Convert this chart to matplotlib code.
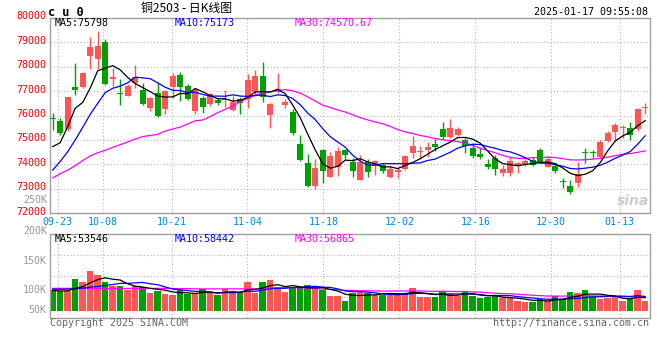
import matplotlib
matplotlib.use("Agg")
import matplotlib.pyplot as plt
from matplotlib.transforms import ScaledTranslation
import numpy as np

# ---------------- data ----------------
opens = [75900, 75780, 75450, 77170, 77180, 78450, 78330, 79000, 77510, 76910,
         76820, 77350, 77050, 76330, 76910, 76270, 77180, 77660, 77210, 76200,
         76710, 76480, 76640, 76640, 76230, 76670, 76670, 76980, 77620, 76030,
         76970, 76430, 76160, 74840, 74050, 73130, 74590, 73500, 73910, 74590,
         74120, 73360, 74120, 73950, 73980, 73500, 73710, 73800, 74480, 74500,
         74590, 74840, 75450, 75140, 75210, 75000, 74690, 74430, 74020, 74280,
         73660, 73660, 73950, 74020, 74180, 74590, 73910, 73950, 73310, 73120,
         73230, 74500, 74500, 74290, 74960, 75340, 75490, 75510, 75440, 76300]
highs = [76090, 75890, 76780, 78170, 77800, 79230, 79450, 79140, 77930, 77480,
         77290, 78070, 77320, 76780, 77360, 77050, 77760, 77800, 77290, 77120,
         76800, 76910, 76710, 77050, 76800, 76780, 77700, 77870, 78190, 76510,
         77730, 76670, 76260, 75210, 74430, 74210, 74620, 74520, 74730, 74620,
         74280, 74390, 74210, 74180, 74070, 73940, 73910, 74370, 75180, 74760,
         74930, 75030, 75750, 75860, 75550, 75070, 74870, 74700, 74210, 74390,
         73980, 74320, 74120, 74210, 74320, 74690, 74350, 74050, 73430, 73360,
         74120, 74660, 74590, 75000, 75370, 75710, 75600, 75750, 76300, 76530]
lows = [75410, 75210, 75380, 76840, 77120, 77890, 77890, 77270, 77210, 76430,
        76790, 77140, 76430, 76200, 75960, 76070, 76710, 76610, 76640, 76070,
        76120, 76390, 76430, 76340, 76170, 76070, 76300, 76800, 76570, 75510,
        76940, 76330, 75210, 74140, 73060, 73000, 73260, 73470, 73530, 74210,
        73500, 73360, 73500, 73570, 73640, 73460, 73430, 73770, 74280, 74210,
        74320, 74550, 75040, 75100, 75180, 74480, 74280, 74220, 73830, 73570,
        73530, 73530, 73660, 73940, 73950, 74050, 73880, 73640, 73020, 72780,
        73090, 74070, 74250, 74250, 74930, 74970, 75070, 75000, 75380, 76050]
closes = [75870, 75300, 76750, 77050, 77730, 78790, 78850, 77290, 77570, 76870,
          77230, 77590, 76480, 76730, 75980, 77020, 77620, 77180, 76680, 77050,
          76340, 76880, 76500, 76680, 76570, 76500, 77460, 77620, 76750, 76480,
          77080, 76570, 75270, 74180, 73130, 73840, 73750, 74350, 74550, 74390,
          73750, 74120, 73710, 74140, 73750, 73800, 73750, 74350, 74760, 74520,
          74730, 74700, 75110, 75510, 75450, 74760, 74350, 74290, 73910, 73810,
          73810, 74140, 74070, 74160, 73980, 74070, 74210, 73750, 73270, 72890,
          73610, 74470, 74470, 74930, 75300, 75620, 75520, 75210, 76270, 76340]
volumes = [85000, 81000, 81000, 130000, 118000, 164000, 147000, 119000, 101000, 101000,
           85000, 101000, 99000, 74000, 81000, 68500, 64000, 85000, 68500, 68500,
           89000, 71000, 64000, 89000, 78000, 78000, 119000, 74000, 119000, 126000,
           99000, 78000, 95000, 95000, 105000, 96000, 85000, 60000, 60000, 40000,
           71000, 81000, 71000, 64000, 64000, 74000, 74000, 74000, 93000, 55000,
           55000, 55000, 81000, 68500, 60000, 81000, 60000, 53000, 55000, 60000,
           51000, 51000, 40000, 36000, 36000, 49000, 40000, 60000, 49000, 77000,
           71000, 85000, 60000, 49000, 53000, 55000, 40000, 47000, 85000, 40000]

# moving-average values before the window fills (uses earlier days)
ma5_head = [74730, 74890, 75550, 76300]
ma10_head = [73770, 74120, 74520, 75000, 75520, 76050, 76500, 76940, 77120]
ma30_head = [73450, 73620, 73770, 73950, 74160, 74350, 74480, 74580, 74700, 74810,
             74920, 75040, 75140, 75190, 75230, 75370, 75450, 75530, 75660, 75790,
             75820, 75960, 76120, 76260, 76390, 76560, 76710, 76830, 76940]
vma5_head = [84000, 81000, 82000, 92000]
vma10_head = [89000, 88000, 89000, 90000, 93000, 97000, 100000, 104000, 108000]
vma30_head = [92000, 92000, 92000, 92000, 92000, 92000, 92000, 92000, 92000, 92000,
              92000, 92000, 92000, 92000, 92000, 92000, 91000, 91000, 91000, 90000,
              90000, 90000, 90000, 90000, 90000, 90000, 90000, 91000, 92000]

date_labels = ["09-23", "10-08", "10-21", "11-04", "11-18", "12-02", "12-16", "12-30", "01-13"]
date_index = [1, 7, 16, 26, 36, 46, 56, 66, 75]
price_ticks = [72000, 73000, 74000, 75000, 76000, 77000, 78000, 79000, 80000]
vol_labels = ["250K", "200K", "150K", "100K", "50K"]
ma_price_text = ["MA5:75798", "MA10:75173", "MA30:74570.67"]
ma_vol_text = ["MA5:53546", "MA10:58442", "MA30:56865"]
title_text = "铜2503 - 日K线图"
symbol_text = "c u 0"
time_text = "2025-01-17 09:55:08"


def moving_avg(vals, head, n):
    out = list(head)
    for i in range(len(head), len(vals)):
        out.append(float(np.mean(vals[i - n + 1:i + 1])))
    return np.array(out)


# ---------------- style ----------------
W, H = 660, 360
RED = "#ff5555"
GREEN = "#00a000"
GRID = "#b4b4b4"
FRAME = "#a0a0a0"
MONO = "DejaVu Sans Mono"
CJK = ["Noto Sans CJK SC", "DejaVu Sans"]

fig = plt.figure(figsize=(6.6, 3.6), dpi=100)
fig.patch.set_facecolor("white")


def fx(px):
    return px / W


def fy(py):
    return 1 - py / H


ax = fig.add_axes([fx(50), fy(213.3), fx(600), (213.3 - 17.9) / H])
axv = fig.add_axes([fx(50), fy(318.3), fx(600), 84 / H])

n = len(closes)
x = np.arange(n)
o = np.array(opens); c = np.array(closes); hi = np.array(highs); lo = np.array(lows)
up = c >= o
cols = [RED if u else GREEN for u in up]

# grid
grid_x = [d * 80 / 79 - 0.36 for d in date_index]
for a in (ax, axv):
    a.set_xlim(-0.36, 79.64)
    for g in grid_x:
        a.axvline(g, color=GRID, lw=0.8, dashes=(1, 2), zorder=0)
    for s in a.spines.values():
        s.set_color(FRAME)
        s.set_linewidth(1.0)

for p in price_ticks[1:-1]:
    ax.axhline(p, color=GRID, lw=0.8, dashes=(1, 2), zorder=0)
for fr in (0.25, 0.5, 0.75):
    axv.plot([0, 1], [fr, fr], transform=axv.transAxes, color=GRID, lw=0.8,
             dashes=(1, 2), zorder=0)

# candles
ax.vlines(x, lo, hi, colors=cols, lw=1.0, zorder=2)
body_h = np.maximum(np.abs(c - o), 45)
body_b = np.minimum(o, c)
ax.bar(x, body_h, bottom=body_b, width=0.8, color=cols, linewidth=0, zorder=3)

ma5 = moving_avg(closes, ma5_head, 5)
ma10 = moving_avg(closes, ma10_head, 10)
ma30 = moving_avg(closes, ma30_head, 30)
ax.plot(x, ma30, color="#ff00ff", lw=0.9, zorder=4)
ax.plot(x, ma10, color="#0000ff", lw=0.9, zorder=4)
ax.plot(x, ma5, color="black", lw=0.9, zorder=4)

ax.set_ylim(72000, 80000)
ax.set_yticks(price_ticks)
ax.set_yticklabels([str(p) for p in price_ticks], fontfamily=MONO, fontsize=7.2, color="#ee0000")
ax.set_xticks(grid_x)
ax.set_xticklabels(date_labels, fontfamily=MONO, fontsize=7.2, color="#0088dd")
ax.tick_params(axis="both", length=0)
ax.tick_params(axis="y", pad=2.3)
ax.tick_params(axis="x", pad=2.8)
for lab in ax.get_yticklabels():
    lab.set_transform(lab.get_transform() + ScaledTranslation(0, 0.026, fig.dpi_scale_trans))

# volume
axv.bar(x, volumes, width=0.86, color=cols, linewidth=0, zorder=2)
vma5 = moving_avg(volumes, vma5_head, 5)
vma10 = moving_avg(volumes, vma10_head, 10)
vma30 = moving_avg(volumes, vma30_head, 30)
axv.plot(x, vma30, color="#ff00ff", lw=0.9, zorder=4)
axv.plot(x, vma10, color="#0000ff", lw=0.9, zorder=4)
axv.plot(x, vma5, color="black", lw=0.9, zorder=4)
axv.set_ylim(-31300, 314800)
axv.set_xticks([])
axv.set_yticks([])

# volume scale labels (placed as drawn in the reference)
for lab, py in zip(vol_labels, [200, 231, 261, 290, 310.3]):
    fig.text(fx(46.8), fy(py), lab, ha="right", va="center", fontfamily=MONO,
             fontsize=7.2, color="#999999")

# legends
for txt, px, col in zip(ma_price_text, [55, 175, 295], ["black", "#0000ff", "#ff00ff"]):
    fig.text(fx(px), fy(23.5), txt, ha="left", va="center", fontfamily=MONO,
             fontsize=7.2, color=col)
for txt, px, col in zip(ma_vol_text, [55, 175, 295], ["black", "#0000ff", "#ff00ff"]):
    fig.text(fx(px), fy(238.5), txt, ha="left", va="center", fontfamily=MONO,
             fontsize=7.2, color=col)

# header
fig.text(fx(48), fy(12), symbol_text, ha="left", va="center", fontfamily=MONO,
         fontsize=8.6, fontweight="bold", color="black")
fig.text(fx(187), fy(8.5), title_text, ha="center", va="center", family=CJK,
         fontsize=8.6, color="black")
fig.text(fx(648.5), fy(12), time_text, ha="right", va="center", fontfamily=MONO,
         fontsize=7.2, color="black")

# footer
fig.text(fx(50), fy(323), "Copyright 2025 SINA.COM", ha="left", va="center",
         fontfamily=MONO, fontsize=7.2, color="#666666")
fig.text(fx(649), fy(323.5), "http://finance.sina.com.cn", ha="right", va="center",
         fontfamily=MONO, fontsize=7.2, color="#666666")

# watermark
fig.text(fx(633), fy(201), "sina", ha="center", va="center", fontsize=10,
         fontstyle="italic", fontweight="bold", color="#c8c8c8", alpha=0.9)

fig.savefig("out.png", dpi=100, facecolor="white")
